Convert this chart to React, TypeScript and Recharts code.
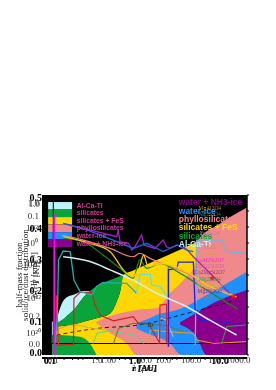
// Overlaid disc phase maps: condensate regions by radius and height, with abundance curves on top.
import {
  Area,
  CartesianGrid,
  ComposedChart,
  Line,
  ReferenceArea,
  ReferenceDot,
  Scatter,
  XAxis,
  YAxis,
  ZAxis,
} from 'recharts'

const SERIF = '"Liberation Serif", serif'
const SANS = '"Liberation Sans", sans-serif'

const COLORS = ['#bff3fb', '#0aa53a', '#ffd700', '#f08a8a', '#1e90ff', '#8b008b']
const PHASES = ['Al-Ca-Ti', 'silicates', 'silicates + FeS', 'phyllosilicates', 'water-ice', 'water + NH3-ice']

// x axes: log10 of radius
const AX_TICKS = [-1, 0, 1, 2, 3]
const AX_LABELS = ['0.1', '1.0', '10.0', '100.0', '1000.0']
const BX_TICKS = [-1, 0, 1]
const BX_LABELS = ['0.1', '1.0', '10.0']
const CX_TICKS = [-1, 0, 1, 2]
const CX_LABELS = ['0.1', '1.00', '10.0', '100.0']
const MINOR_X = [-1, -0.7, -0.52, -0.4, -0.3, 0, 0.3, 0.48, 0.6, 0.7, 1, 1.3, 1.48, 1.6, 1.7, 2, 2.3, 2.48, 2.6, 2.7, 3]

// y axes
const BOLD_TICKS = [0, 0.1, 0.2, 0.3, 0.4, 0.5]
const FRAC_TICKS = [0, 0.2, 1]
const MASS_TICKS = [-1, 0]
const MASS_LABELS = ['0.1', '1.0']
const DENS_TICKS = [20, 22, 24, 26]
const DENS_LABELS = ['10²⁰', '10²²', '10²⁴', '10²⁶']
const TEMP_TICKS = [-1, 0]
const TEMP_LABELS = ['10⁻¹', '10⁰']
const MINOR_Y = [0, 0.05, 0.1, 0.15, 0.2, 0.25, 0.3, 0.35, 0.4, 0.45, 0.5]

// condensate regions: radius, lower edge, upper edge
const sliverX = [-0.96, -0.89]
const sliverLo = [0.036, 0.036]
const sliverHi = [0.104, 0.109]

const lightX = [-0.86, -0.75, -0.65, -0.47, -0.29, -0.15]
const lightLo = [0.099, 0.105, 0.12, 0.145, 0.18, 0.2]
const lightHi = [0.11, 0.16, 0.18, 0.19, 0.2, 0.2]

const yellowX = [-0.89, -0.47, -0.29, -0.01, 0.28, 0.42, 0.5, 0.56, 0.77, 1.48, 2.12]
const yellowLo = [0, 0, 0, 0, 0, 0, 0, 0, 0, 0, 0]
const yellowHi = [0.089, 0.097, 0.104, 0.115, 0.13, 0.167, 0.203, 0.25, 0.264, 0.31, 0.353]

const greenX = [-0.86, -0.65, -0.47, -0.29, -0.15, -0.01, 0.28, 0.42, 0.5, 0.55]
const greenLo = [0.089, 0.093, 0.097, 0.104, 0.109, 0.115, 0.13, 0.167, 0.203, 0.25]
const greenHi = [0.099, 0.12, 0.145, 0.18, 0.2, 0.214, 0.234, 0.242, 0.247, 0.25]

const blobX = [-0.96, -0.89, -0.36, -0.15, -0.01]
const blobLo = [0, 0, 0, 0, 0]
const blobHi = [0.0625, 0.0625, 0.057, 0.036, 0]

const pinkX = [-0.01, 0.35, 0.63, 0.84, 1.27, 1.55, 1.84, 2.09, 2.12, 2.62, 3.19]
const pinkLo = [0.099, 0.0625, 0.036, 0, 0, 0, 0, 0, 0, 0, 0]
const pinkHi = [0.104, 0.125, 0.135, 0.141, 0.146, 0.193, 0.234, 0.286, 0.353, 0.411, 0.461]

const blueX = [0.84, 1.2, 1.27, 1.55, 1.8, 2.33, 3.19]
const blueLo = [0.083, 0.06, 0.057, 0.036, 0, 0, 0]
const blueHi = [0.099, 0.12, 0.125, 0.135, 0.146, 0.1875, 0.26]

const purpleX = [1.77, 2.12, 2.33, 3.19]
const purpleLo = [0.094, 0.057, 0, 0]
const purpleHi = [0.102, 0.132, 0.151, 0.203]

// curves
const tealX = [-0.89, -0.84, -0.82, -0.72, -0.57, -0.49, -0.36, -0.11, -0.01, 0.13, 0.63, 0.84]
const tealY = [0.036, 0.13, 0.297, 0.325, 0.323, 0.234, 0.198, 0.1875, 0.214, 0.227, 0.224, 0.193]
const cyanX = [0.84, 0.91, 1.13, 1.16, 1.34, 1.48]
const cyanY = [0.193, 0.252, 0.252, 0.219, 0.214, 0.1875]
const paleX = [-0.72, -0.15, 0.28, 0.77, 1.27, 1.91, 2.4, 2.97]
const paleY = [0.307, 0.292, 0.266, 0.234, 0.193, 0.151, 0.109, 0.0625]
const salmonX = [-0.75, -0.29, 0.28, 0.77, 0.91, 1.13, 1.48, 1.91, 2.33, 2.9]
const salmonY = [0.375, 0.359, 0.333, 0.307, 0.318, 0.302, 0.281, 0.255, 0.224, 0.1875]
const goldX = [-0.72, -0.15, 0.28, 0.56, 0.74, 0.91, 0.99, 1.09, 1.34, 1.91, 2.4, 2.97]
const goldY = [0.37, 0.349, 0.323, 0.266, 0.245, 0.276, 0.3125, 0.276, 0.286, 0.26, 0.214, 0.182]
const forestX = [-0.72, -0.29, 0.13, 0.49, 0.77, 0.91, 1.06, 1.34, 1.77, 2.33, 2.99]
const forestY = [0.365, 0.354, 0.3125, 0.271, 0.24, 0.297, 0.271, 0.286, 0.255, 0.203, 0.143]
const violetX = [-0.72, -0.29, 0.28, 0.42, 0.45, 0.49, 0.67, 0.74, 0.81, 0.95, 1.0, 1.23, 1.34, 1.41, 1.48, 1.55, 1.7, 1.91, 2.05, 2.48, 2.82]
const violetY = [0.411, 0.396, 0.375, 0.37, 0.391, 0.354, 0.349, 0.328, 0.339, 0.375, 0.344, 0.333, 0.349, 0.359, 0.338, 0.333, 0.344, 0.33, 0.307, 0.245, 0.193]
const azureX = [-0.72, -0.22, 0.35, 0.77, 1.06, 1.27, 1.41, 1.7, 1.91, 2.05]
const azureY = [0.411, 0.391, 0.359, 0.333, 0.349, 0.333, 0.323, 0.344, 0.328, 0.323]
const deepX = [1.52, 1.52, 1.7, 1.73, 2.05, 2.09, 2.19, 2.62, 2.9, 3.18]
const deepY = [0.026, 0.266, 0.271, 0.29, 0.29, 0.135, 0.109, 0.104, 0.097, 0.099]
const grayX = [1.52, 1.52]
const grayY = [0.026, 0.276]
const skyX = [2.09, 2.12, 2.65, 2.76, 3.15]
const skyY = [0.031, 0.359, 0.359, 0.323, 0.318]
const redX = [-0.86, -0.5, -0.49, -0.36, -0.11, -0.04, 0.06, 0.35, 0.77, 0.88, 1.09, 1.34]
const redY = [0.031, 0.033, 0.177, 0.196, 0.196, 0.156, 0.125, 0.107, 0.12, 0.099, 0.099, 0.036]
const peakX = [-0.89, -0.86, -0.82]
const peakY = [0.036, 0.187, 0.031]
const boxX = [1.33, 1.34, 1.48, 1.48]
const boxY = [0.036, 0.156, 0.159, 0.036]
const oliveX = [0.35, 0.46, 0.77, 1.48, 1.91]
const oliveY = [0.036, 0.083, 0.099, 0.092, 0.068]
const seafoamX = [-0.08, 0, 0.28, 0.77, 0.99]
const seafoamY = [0.036, 0.068, 0.076, 0.0625, 0.036]
const blushX = [1.3, 1.34, 1.48, 1.62]
const blushY = [0.036, 0.115, 0.109, 0.057]
const orangeX = [1.09, 1.13, 1.48, 2.05, 2.12, 2.48, 3.18]
const orangeY = [0.036, 0.078, 0.073, 0.068, 0.047, 0.036, 0.042]
const tanX = [-0.86, -0.5, -0.08, 0.28]
const tanY = [0.078, 0.094, 0.083, 0.078]
const mossX = [2.65, 2.76, 3.18]
const mossY = [0.036, 0.089, 0.094]
const magentaX = [-0.91, -0.91]
const magentaY = [0, 0.44]
const blackX = [-0.93, -0.93]
const blackY = [0.036, 0.479]
const floorX = [-0.96, 3.18]
const floorY = [0.036, 0.036]
const dashX = [-0.86, -0.01, 0.91, 1.91, 2.97]
const dashY = [0.0625, 0.083, 0.094, 0.13, 0.172]

const markerX = [2.45, 2.9]
const markerY = [0.24, 0.183]

// legend swatches and text rows
const SWATCH_X = [-1.04, -0.53]
const SWATCH_EDGES = [0.478, 0.4547, 0.431, 0.408, 0.384, 0.361, 0.3375]
const LEFT_LABEL_Y = [0.466, 0.444, 0.419, 0.397, 0.372, 0.347]
const RIGHT_LABEL_Y = [0.347, 0.372, 0.4, 0.425, 0.45, 0.478]

const SPECIES = ['MgAl2O4', 'Mg2SiO4', 'Fe2SiO4', 'H2O', 'NH3', 'CaAl2Si2O7', 'CaAl2Si2O8', 'Ca2MgSi2O7', 'Mg2SiO4', 'NaAlSi3O8', 'Mg2Si2O6', 'FeS']
const SPECIES_Y = [0.459, 0.441, 0.381, 0.3375, 0.319, 0.297, 0.278, 0.259, 0.2375, 0.219, 0.2, 0.181]
const SPECIES_COLORS = ['#b8860b', '#008b8b', '#d070a0', '#e07070', '#e0a040', '#ff20d0', '#d060a0', '#a03080', '#30a050', '#c8c040', '#4040c0', '#c07060']

const toPoints = (xs: number[], ys: number[]) => xs.map((x, i) => ({ x, y: ys[i] }))
const toBand = (xs: number[], lo: number[], hi: number[]) => xs.map((x, i) => ({ x, band: [lo[i], hi[i]] }))

const band = (key: string, xs: number[], lo: number[], hi: number[], color: string) => (
  <Area
    key={key}
    xAxisId="lr"
    yAxisId="z"
    type="monotone"
    data={toBand(xs, lo, hi)}
    dataKey="band"
    fill={color}
    fillOpacity={1}
    stroke="none"
    dot={false}
    activeDot={false}
    isAnimationActive={false}
  />
)

const curve = (key: string, xs: number[], ys: number[], color: string, width = 1, dash?: string, kind: 'monotone' | 'linear' = 'linear') => (
  <Line
    key={key}
    xAxisId="lr"
    yAxisId="z"
    type={kind}
    data={toPoints(xs, ys)}
    dataKey="y"
    stroke={color}
    strokeWidth={width}
    strokeDasharray={dash}
    dot={false}
    activeDot={false}
    isAnimationActive={false}
  />
)

// the extra axes only carry labels, but recharts draws no ticks for an axis without a series
const anchor = (xAxisId: string, yAxisId: string, xs: number[], ys: number[]) => (
  <Line
    key={`${xAxisId}-${yAxisId}`}
    xAxisId={xAxisId}
    yAxisId={yAxisId}
    data={toPoints(xs.slice(0, 2), ys.slice(0, 2))}
    dataKey="y"
    stroke="none"
    dot={false}
    activeDot={false}
    legendType="none"
    isAnimationActive={false}
  />
)

const note = (key: string, x: number, y: number, value: string, fill: string, fontSize: number, fontFamily: string, fontWeight: string, position: 'right' | 'center') => (
  <ReferenceDot
    key={key}
    xAxisId="lr"
    yAxisId="z"
    x={x}
    y={y}
    r={0}
    stroke="none"
    fill="none"
    ifOverflow="visible"
    label={{ value, position, fill, fontSize, fontFamily, fontWeight, offset: 0 }}
  />
)

const axisFont = { fontFamily: SERIF, fontSize: 9, fill: '#333333' }
const boldFont = { fontFamily: SERIF, fontSize: 10, fontWeight: 'bold', fill: '#000000' }
const titleFont = { fontFamily: SERIF, fontSize: 9, fill: '#222222' }

const labelFrom = (ticks: number[], labels: string[]) => (v: number) => labels[ticks.indexOf(v)] ?? ''

export default function App() {
  return (
    <div style={{ position: 'fixed', left: 0, top: 0, width: 276, height: 390, filter: 'blur(0.45px)' }}>
      <ComposedChart width={276} height={390} margin={{ top: 195, right: 28, bottom: 31, left: 37 }}>
        <CartesianGrid xAxisId="lr" yAxisId="z" horizontal={false} vertical={false} fill="#000000" />
        <ZAxis type="number" range={[14, 14]} />

        <XAxis
          xAxisId="lr"
          type="number"
          dataKey="x"
          domain={[-1.17, 3.191]}
          allowDataOverflow
          height={1}
          ticks={MINOR_X}
          interval={0}
          tickFormatter={() => ''}
          tickSize={2}
          axisLine={{ stroke: '#000000', strokeWidth: 2 }}
          tickLine={{ stroke: '#000000' }}
        />
        <XAxis
          xAxisId="a"
          type="number"
          dataKey="x"
          domain={[-1.17, 3.191]}
          allowDataOverflow
          height={1}
          ticks={AX_TICKS}
          interval={0}
          tick={axisFont}
          tickFormatter={labelFrom(AX_TICKS, AX_LABELS)}
          tickSize={0}
          tickMargin={2}
          axisLine={false}
          label={{ value: 'r [AU]', position: 'bottom', offset: 9, ...titleFont, fontStyle: 'italic' }}
        />
        <XAxis
          xAxisId="b"
          type="number"
          dataKey="x"
          domain={[-1.094, 1.318]}
          allowDataOverflow
          height={1}
          ticks={BX_TICKS}
          interval={0}
          tick={boldFont}
          tickFormatter={labelFrom(BX_TICKS, BX_LABELS)}
          tickSize={0}
          tickMargin={1}
          axisLine={false}
          label={{ value: 'r [AU]', position: 'bottom', offset: 8, ...titleFont, fontWeight: 'bold', fill: '#000000' }}
        />
        <XAxis
          xAxisId="c"
          type="number"
          dataKey="x"
          domain={[-1.2, 2.527]}
          allowDataOverflow
          height={1}
          ticks={CX_TICKS}
          interval={0}
          tick={axisFont}
          tickFormatter={labelFrom(CX_TICKS, CX_LABELS)}
          tickSize={0}
          tickMargin={0}
          axisLine={false}
          label={{ value: 'λ [μm]', position: 'bottom', offset: 7, ...titleFont, fontStyle: 'italic' }}
        />

        <YAxis yAxisId="z" type="number" domain={[0, 0.5]} allowDataOverflow hide />
        <YAxis
          yAxisId="frame"
          orientation="right"
          type="number"
          domain={[0, 0.5]}
          allowDataOverflow
          width={1}
          ticks={MINOR_Y}
          interval={0}
          tickFormatter={() => ''}
          tickSize={2}
          axisLine={{ stroke: '#000000', strokeWidth: 1.5 }}
          tickLine={{ stroke: '#000000' }}
        />
        <YAxis
          yAxisId="bold"
          type="number"
          domain={[-0.0097, 0.5065]}
          allowDataOverflow
          width={1}
          ticks={BOLD_TICKS}
          interval={0}
          tick={boldFont}
          tickFormatter={(v: number) => v.toFixed(1)}
          tickSize={0}
          tickMargin={0}
          axisLine={false}
        />
        <YAxis
          yAxisId="frac"
          type="number"
          domain={[-0.0786, 1.064]}
          allowDataOverflow
          width={1}
          ticks={FRAC_TICKS}
          interval={0}
          tick={axisFont}
          tickFormatter={(v: number) => v.toFixed(1)}
          tickSize={0}
          tickMargin={0}
          axisLine={false}
          label={{ value: 'half-mass fraction', angle: -90, position: 'left', offset: 20, textAnchor: 'middle', ...titleFont }}
        />
        <YAxis
          yAxisId="mass"
          type="number"
          domain={[-11.69, 0.615]}
          allowDataOverflow
          width={1}
          ticks={MASS_TICKS}
          interval={0}
          tick={axisFont}
          tickFormatter={labelFrom(MASS_TICKS, MASS_LABELS)}
          tickSize={0}
          tickMargin={0}
          axisLine={false}
          label={{ value: 'solid/ice/dust distribution', angle: -90, position: 'left', offset: 13, textAnchor: 'middle', ...titleFont }}
        />
        <YAxis
          yAxisId="dens"
          type="number"
          domain={[18.74, 27.89]}
          allowDataOverflow
          width={1}
          ticks={DENS_TICKS}
          interval={0}
          tick={axisFont}
          tickFormatter={labelFrom(DENS_TICKS, DENS_LABELS)}
          tickSize={0}
          tickMargin={0}
          axisLine={false}
          label={{ value: 'n⟨H⟩ [cm⁻³]', angle: -90, position: 'left', offset: 6, textAnchor: 'middle', ...titleFont }}
        />
        <YAxis
          yAxisId="temp"
          type="number"
          domain={[-5.09, 2.18]}
          allowDataOverflow
          width={1}
          ticks={TEMP_TICKS}
          interval={0}
          tick={axisFont}
          tickFormatter={labelFrom(TEMP_TICKS, TEMP_LABELS)}
          tickSize={0}
          tickMargin={0}
          axisLine={false}
          label={{ value: 'T [K]', angle: -90, position: 'left', offset: 1, textAnchor: 'middle', ...titleFont }}
        />

        {anchor('a', 'bold', AX_TICKS, BOLD_TICKS)}
        {anchor('b', 'frac', BX_TICKS, FRAC_TICKS)}
        {anchor('c', 'mass', CX_TICKS, MASS_TICKS)}
        {anchor('a', 'dens', AX_TICKS, DENS_TICKS)}
        {anchor('a', 'temp', AX_TICKS, TEMP_TICKS)}
        {anchor('lr', 'frame', MINOR_X, MINOR_Y)}

        {band('sliver', sliverX, sliverLo, sliverHi, COLORS[0])}
        {band('light', lightX, lightLo, lightHi, COLORS[0])}
        {band('yellow', yellowX, yellowLo, yellowHi, COLORS[2])}
        {band('green', greenX, greenLo, greenHi, COLORS[1])}
        {band('blob', blobX, blobLo, blobHi, COLORS[1])}
        {band('pink', pinkX, pinkLo, pinkHi, COLORS[3])}
        {band('blue', blueX, blueLo, blueHi, COLORS[4])}
        {band('purple', purpleX, purpleLo, purpleHi, COLORS[5])}

        {COLORS.map((color, i) => (
          <ReferenceArea
            key={color}
            xAxisId="lr"
            yAxisId="z"
            x1={SWATCH_X[0]}
            x2={SWATCH_X[1]}
            y1={SWATCH_EDGES[i]}
            y2={SWATCH_EDGES[i + 1]}
            fill={color}
            fillOpacity={1}
            stroke="none"
          />
        ))}

        {curve('floor', floorX, floorY, '#000000', 1.2)}
        {curve('dash', dashX, dashY, '#000000', 0.8, '4 3', 'monotone')}
        {curve('tan', tanX, tanY, '#c8a860', 1, undefined, 'monotone')}
        {curve('seafoam', seafoamX, seafoamY, '#50d890', 1)}
        {curve('olive', oliveX, oliveY, '#5a7a30', 1)}
        {curve('orange', orangeX, orangeY, '#e8a020', 1)}
        {curve('blush', blushX, blushY, '#f0b0a0', 1)}
        {curve('moss', mossX, mossY, '#40a040', 1)}
        {curve('red', redX, redY, '#d02020', 1.2)}
        {curve('peak', peakX, peakY, '#ff2020', 1.2)}
        {curve('box', boxX, boxY, '#e02020', 1.2)}
        {curve('gray', grayX, grayY, '#808080', 1.6)}
        {curve('teal', tealX, tealY, '#20b0b0', 1.3)}
        {curve('cyan', cyanX, cyanY, '#60e0e0', 1.3)}
        {curve('sky', skyX, skyY, '#78b0d8', 1.3)}
        {curve('deep', deepX, deepY, '#2020e0', 1.3)}
        {curve('pale', paleX, paleY, '#d4ecf6', 1.6, undefined, 'monotone')}
        {curve('salmon', salmonX, salmonY, '#f08080', 1.2, undefined, 'monotone')}
        {curve('forest', forestX, forestY, '#109010', 1.2, undefined, 'monotone')}
        {curve('gold', goldX, goldY, '#ffc800', 1.3, undefined, 'monotone')}
        {curve('violet', violetX, violetY, '#a020c0', 1.3)}
        {curve('azure', azureX, azureY, '#2060e0', 1.3)}
        {curve('black', blackX, blackY, '#000000', 1)}
        {curve('magenta', magentaX, magentaY, '#ff00ff', 1.8)}

        <Scatter
          xAxisId="lr"
          yAxisId="z"
          data={toPoints(markerX, markerY)}
          dataKey="y"
          fill="#ff1010"
          shape="star"
          isAnimationActive={false}
        />

        {PHASES.map((p, i) => note(`left-${p}`, -0.43, LEFT_LABEL_Y[i], p, '#cc3c96', 6.8, SANS, 'bold', 'right'))}
        {PHASES.map((p, i) => note(`right-${p}`, 1.74, RIGHT_LABEL_Y[i], p, COLORS[i], 8.5, SANS, 'bold', 'right'))}
        {SPECIES.map((s, i) => note(`sp-${i}`, 2.4, SPECIES_Y[i], s, SPECIES_COLORS[i], 5.5, SERIF, 'normal', 'center'))}
        {note('contour', 1.13, 0.094, '10', '#222222', 6, SERIF, 'normal', 'center')}
      </ComposedChart>
    </div>
  )
}
